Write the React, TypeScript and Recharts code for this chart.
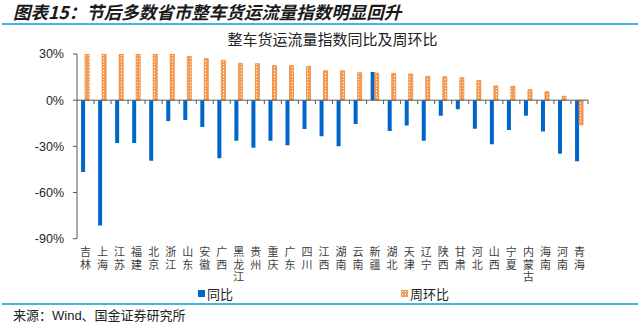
import React from "react";
import { BarChart, Bar, XAxis, YAxis, ReferenceLine, Legend } from "recharts";

const categories = [
    "吉林", "上海", "江苏", "福建", "北京", "浙江", "山东", "安徽", "广西", "黑龙江",
    "贵州", "重庆", "广东", "四川", "江西", "湖南", "云南", "新疆", "湖北", "天津",
    "辽宁", "陕西", "甘肃", "河北", "山西", "宁夏", "内蒙古", "海南", "河南", "青海",
];

// 同比 (%)
const yoyValues = [
    -46.7, -81.5, -27.8, -27.8, -39.3, -13.5, -12.8, -17.4, -37.8, -26.3,
    -30.9, -26.3, -29.3, -18.7, -23.5, -30.0, -15.4, 18.3, -20.0, -16.5,
    -26.3, -10.2, -5.9, -18.5, -28.7, -19.3, -10.2, -20.4, -34.8, -39.6,
];

// 周环比 (%)
const wowValues = [
    30, 30, 30, 30, 30, 30, 28.3, 27.0, 25.9, 23.9,
    23.7, 22.4, 22.4, 22.0, 19.1, 19.1, 17.8, 17.6, 17.4, 17.0,
    15.5, 15.2, 14.6, 12.7, 9.2, 9.0, 6.8, 5.5, 2.5, -16.0,
];

const yTicks = [-90, -60, -30, 0, 30];
const seriesNames = ["同比", "周环比"];

const data = categories.map((name, i) => ({ name, yoy: yoyValues[i], wow: wowValues[i] }));

const W = 640;
const H = 327;
const TOP = 54;
const LEFT = 77;
const RIGHT = 52;
const XAXIS_H = 88.3;
const PLOT_H = H - TOP - XAXIS_H;
const ZERO_Y = TOP + PLOT_H * (30 / 120);
const BAND = (W - LEFT - RIGHT) / categories.length;

const CJK = '"Noto Sans CJK SC", sans-serif';
const LATIN = '"Liberation Sans", Arial, "Noto Sans CJK SC", sans-serif';
const ORANGE = "#EF8633";
const ORANGE_FILL = "#F39D58";
const BLUE = "#0066CC";
const AXIS = "#595959";
const RULE = "#45B6E8";

// vertical category names, one character per line, plus the boundary tick on the zero line
const CategoryTick = (props: any) => {
    const { x, y, payload } = props;
    const chars = String(payload.value).split("");
    return (
        <g>
            <line x1={x + BAND / 2} x2={x + BAND / 2} y1={ZERO_Y} y2={ZERO_Y + 4} stroke={AXIS} strokeWidth={1} />
            {chars.map((c, i) => (
                <text key={i} x={x} y={y + 17 + i * 12.8} textAnchor="middle" fontSize={11} fill="#404040" fontFamily={LATIN}>
                    {c}
                </text>
            ))}
        </g>
    );
};

const DotSwatch = () => (
    <svg width={7} height={7} style={{ display: "block" }}>
        <rect width={7} height={7} fill={ORANGE_FILL} />
        <rect x={1} y={1} width={1} height={1} fill="#fff" />
        <rect x={4} y={1} width={1} height={1} fill="#fff" />
        <rect x={1} y={4} width={1} height={1} fill="#fff" />
        <rect x={4} y={4} width={1} height={1} fill="#fff" />
    </svg>
);

const renderLegend = () => (
    <div style={{ position: "relative", width: W, height: 16, fontFamily: CJK, fontSize: 13, color: "#222" }}>
        <div style={{ position: "absolute", left: 198, top: 0, display: "flex", alignItems: "center", height: 16 }}>
            <div style={{ width: 7, height: 7, background: BLUE, marginRight: 2 }} />
            <span>{seriesNames[0]}</span>
        </div>
        <div style={{ position: "absolute", left: 401, top: 0, display: "flex", alignItems: "center", height: 16 }}>
            <div style={{ marginRight: 2 }}>
                <DotSwatch />
            </div>
            <span>{seriesNames[1]}</span>
        </div>
    </div>
);

export default function App() {
    return (
        <div style={{ position: "absolute", left: 0, top: 0, width: W, height: H, background: "#fff", overflow: "hidden" }}>
            <div
                style={{
                    position: "absolute",
                    left: 13,
                    top: 2,
                    fontFamily: CJK,
                    fontSize: 17.5,
                    fontWeight: 700,
                    fontStyle: "italic",
                    color: "#1a1a1a",
                    lineHeight: "20px",
                    whiteSpace: "nowrap",
                }}
            >
                图表15：节后多数省市整车货运流量指数明显回升
            </div>
            <div style={{ position: "absolute", left: 2, top: 23, width: 636, height: 2, background: RULE }} />
            <div
                style={{
                    position: "absolute",
                    left: LEFT,
                    width: W - LEFT - RIGHT,
                    top: 30,
                    textAlign: "center",
                    fontFamily: CJK,
                    fontSize: 15,
                    color: "#222",
                    lineHeight: "18px",
                }}
            >
                整车货运流量指数同比及周环比
            </div>
            <div style={{ position: "absolute", left: 0, top: 0 }}>
                <BarChart
                    width={W}
                    height={H}
                    data={data}
                    margin={{ top: TOP, right: RIGHT, bottom: 0, left: 0 }}
                    barCategoryGap="24%"
                    barGap={0}
                >
                    <defs>
                        <pattern id="dots" width="3" height="3" patternUnits="userSpaceOnUse">
                            <rect width="3" height="3" fill={ORANGE_FILL} />
                            <rect x="1" y="1" width="1" height="1" fill="#FFFFFF" />
                        </pattern>
                    </defs>
                    <XAxis
                        dataKey="name"
                        interval={0}
                        height={XAXIS_H}
                        axisLine={false}
                        tickLine={false}
                        tickSize={0}
                        tickMargin={0}
                        tick={<CategoryTick />}
                    />
                    <YAxis
                        width={LEFT}
                        domain={[-90, 30]}
                        ticks={yTicks}
                        allowDataOverflow
                        tickFormatter={(v) => `${v}%`}
                        axisLine={{ stroke: AXIS }}
                        tickLine={{ stroke: AXIS }}
                        tickSize={4}
                        tickMargin={9}
                        tick={{ fill: "#262626", fontSize: 12.5, fontFamily: LATIN }}
                    />
                    <Bar dataKey="yoy" name={seriesNames[0]} fill={BLUE} isAnimationActive={false} />
                    <Bar
                        dataKey="wow"
                        name={seriesNames[1]}
                        fill="url(#dots)"
                        stroke={ORANGE}
                        strokeWidth={0.8}
                        isAnimationActive={false}
                    />
                    <ReferenceLine y={0} stroke={AXIS} strokeWidth={1} />
                    <Legend
                        verticalAlign="middle"
                        align="center"
                        layout="horizontal"
                        content={renderLegend}
                        wrapperStyle={{ top: 285, left: 0, width: W, height: 16 }}
                    />
                </BarChart>
            </div>
            <div style={{ position: "absolute", left: 2, top: 303, width: 636, height: 2, background: RULE }} />
            <div
                style={{
                    position: "absolute",
                    left: 13,
                    top: 308,
                    fontFamily: LATIN,
                    fontSize: 13,
                    color: "#222",
                    lineHeight: "16px",
                    whiteSpace: "nowrap",
                }}
            >
                来源：Wind、国金证券研究所
            </div>
        </div>
    );
}
